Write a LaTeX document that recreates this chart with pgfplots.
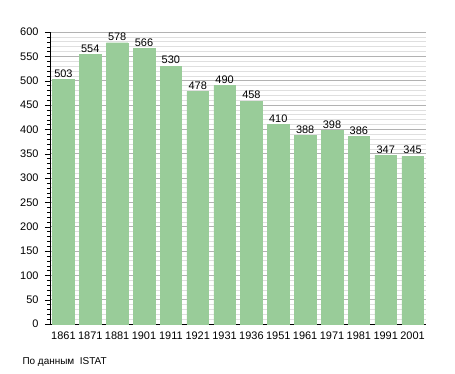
\documentclass[border=0pt]{standalone}
\usepackage{pgfplots}
\pgfplotsset{compat=1.18}
\usepackage{fontspec}
\setmainfont{Liberation Sans}
\definecolor{barfill}{HTML}{99CC99}
\begin{document}
\begin{tikzpicture}[x=1bp,y=1bp]
\path[use as bounding box] (-50,-49) rectangle (405,324);
\begin{axis}[
  at={(0,0)}, anchor=south west,
  scale only axis, width=376bp, height=292bp,
  xmin=-0.5, xmax=13.5, ymin=0, ymax=600,
  ytick={0,50,...,600},
  minor ytick={0,10,...,600},
  xtick={0,...,13},
  xticklabels={1861,1871,1881,1901,1911,1921,1931,1936,1951,1961,1971,1981,1991,2001},
  ymajorgrids, yminorgrids,
  major grid style={gray!60, line width=0.5pt},
  minor grid style={gray!25, line width=0.5pt},
  axis lines*=left,
  axis line style={black, line width=0.8pt, -},
  tick style={black},
  major tick length=5bp, minor tick length=3bp,
  tick align=outside,
  xtick style={draw=none},
  ytick pos=left,
  yticklabel style={font=\fontsize{11}{13}\selectfont, xshift=-3bp},
  xticklabel style={font=\fontsize{11}{13}\selectfont, yshift=1bp},
  /pgf/number format/assume math mode=true,
  ybar, bar width=21.5bp,
  nodes near coords,
  nodes near coords style={font=\fontsize{11}{13}\selectfont, yshift=-1.5bp},
]
\addplot[fill=barfill, draw=barfill] coordinates {
(0,503) (1,554) (2,578) (3,566) (4,530) (5,478) (6,490) (7,458) (8,410) (9,388) (10,398) (11,386) (12,347) (13,345)};
\end{axis}
\node[anchor=west, font=\fontsize{10}{12}\selectfont] at (-31,-38) {По данным\ \ ISTAT};
\end{tikzpicture}
\end{document}
